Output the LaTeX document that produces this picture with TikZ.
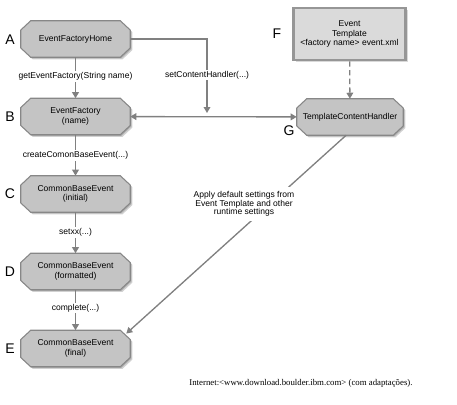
\documentclass[tikz,border=0pt]{standalone}
\usepackage{fontspec}
\setmainfont{Liberation Sans}
\newfontfamily\capfont{Liberation Serif}
\usetikzlibrary{calc,shadows,arrows.meta}
\pgfdeclarelayer{background}
\pgfsetlayers{background,main}
\definecolor{nodefill}{RGB}{196,196,196}
\definecolor{nodeborder}{RGB}{135,135,135}
\definecolor{tplfill}{RGB}{218,218,218}
\definecolor{tplborder}{RGB}{150,150,150}
\definecolor{arrowgray}{RGB}{128,128,128}
\tikzset{
  oct/.style={rectangle, draw=none, minimum width=81.75pt, minimum height=27pt,
    inner sep=1pt, align=center, font=\fontsize{6.4}{7.2}\selectfont},
  octpath/.style={draw=nodeborder, line width=0.8pt, fill=nodefill},
  octshadow/.style={fill=black, opacity=0.18},
  tpl/.style={rectangle, draw=tplborder, line width=2pt, fill=tplfill, minimum width=84pt, minimum height=39pt,
    align=center, font=\fontsize{6.4}{7.4}\selectfont,
    drop shadow={opacity=0.3, shadow xshift=1.5pt, shadow yshift=-1.5pt}},
  letter/.style={font=\fontsize{10.5}{12}\selectfont},
  arr/.style={draw=arrowgray, line width=1pt, -{Triangle[length=4.5pt,width=5pt]}},
  lbl/.style={fill=white, inner sep=1pt, font=\fontsize{6.4}{7.2}\selectfont, align=center},
}
\newcommand\octagonpath[2]{%
  ($(#1.north west)+(7.5pt,0)+(#2)$) -- ($(#1.north east)+(-7.5pt,0)+(#2)$) --
  ($(#1.north east)+(0,-7pt)+(#2)$) -- ($(#1.south east)+(0,7pt)+(#2)$) --
  ($(#1.south east)+(-7.5pt,0)+(#2)$) -- ($(#1.south west)+(7.5pt,0)+(#2)$) --
  ($(#1.south west)+(0,7pt)+(#2)$) -- ($(#1.north west)+(0,-7pt)+(#2)$) -- cycle}
\newcommand\octshape[1]{%
  \begin{pgfonlayer}{background}
    \path[octshadow] \octagonpath{#1}{1.6pt,-1.6pt};
    \path[octshadow] \octagonpath{#1}{0.8pt,-0.8pt};
    \path[octpath] \octagonpath{#1}{0pt,0pt};
  \end{pgfonlayer}}
\begin{document}
\begin{tikzpicture}[x=0.75pt,y=-0.75pt]
\useasboundingbox (0,0) rectangle (457,404);
% nodes
\node[oct] (A) at (75.5,39) {EventFactoryHome};
\node[oct] (B) at (75.5,116.5) {EventFactory\\(name)};
\node[oct] (C) at (75.5,194) {CommonBaseEvent\\(initial)};
\node[oct] (D) at (75.5,271.5) {CommonBaseEvent\\(formatted)};
\node[oct] (E) at (75.5,348.5) {CommonBaseEvent\\(final)};
\node[tpl] (F) at (349.5,34) {Event\\Template\\\textless factory name\textgreater\ event.xml};
\node[oct, minimum width=79.5pt] (G) at (350,117) {TemplateContentHandler};
\octshape{A}\octshape{B}\octshape{C}\octshape{D}\octshape{E}\octshape{G}
% letters
\node[letter] (lA) at (10,40) {A};
\node[letter] (lB) at (10,117) {B};
\node[letter] (lC) at (10,194) {C};
\node[letter] (lD) at (10,272) {D};
\node[letter] (lE) at (10,349) {E};
\node[letter] (lF) at (277,34) {F};
\node[letter] (lG) at (289,131) {G};
% connectors
\draw[arr] (A) -- (B) node[lbl, pos=0.47] (tAB) {getEventFactory(String name)};
\draw[arr] (B) -- (C) node[lbl, pos=0.5] (tBC) {createComonBaseEvent(...)};
\draw[arr] (C) -- (D) node[lbl, pos=0.5] (tCD) {setxx(...)};
\draw[arr] (D) -- (E) node[lbl, pos=0.45] (tDE) {complete(...)};
\coordinate (hook) at (207,113);
\draw[arr] (A.east) -| (hook);
\node[lbl] (tSC) at (207,75) {setContentHandler(...)};
\draw[draw=arrowgray, line width=1pt, {Triangle[length=4.5pt,width=5pt]}-{Triangle[length=4.5pt,width=5pt]}] (B) -- (G);
\draw[arr, dashed, dash pattern=on 4pt off 2.5pt] (F) -- (G);
\coordinate (Etip) at ($(E.north east)+(-3pt,-2.5pt)$);
\draw[arr] (G.-102) -- (Etip);
\node[lbl, inner sep=3pt, font=\fontsize{6.4}{6.4}\selectfont] (tGE) at (244,204) {Apply default settings from\\Event Template and other\\runtime settings};
\node[font=\capfont\fontsize{6.6}{8}\selectfont] (cap) at (301,383) {Internet:\textless www.download.boulder.ibm.com\textgreater\ (com adaptações).};
\end{tikzpicture}
\end{document}
